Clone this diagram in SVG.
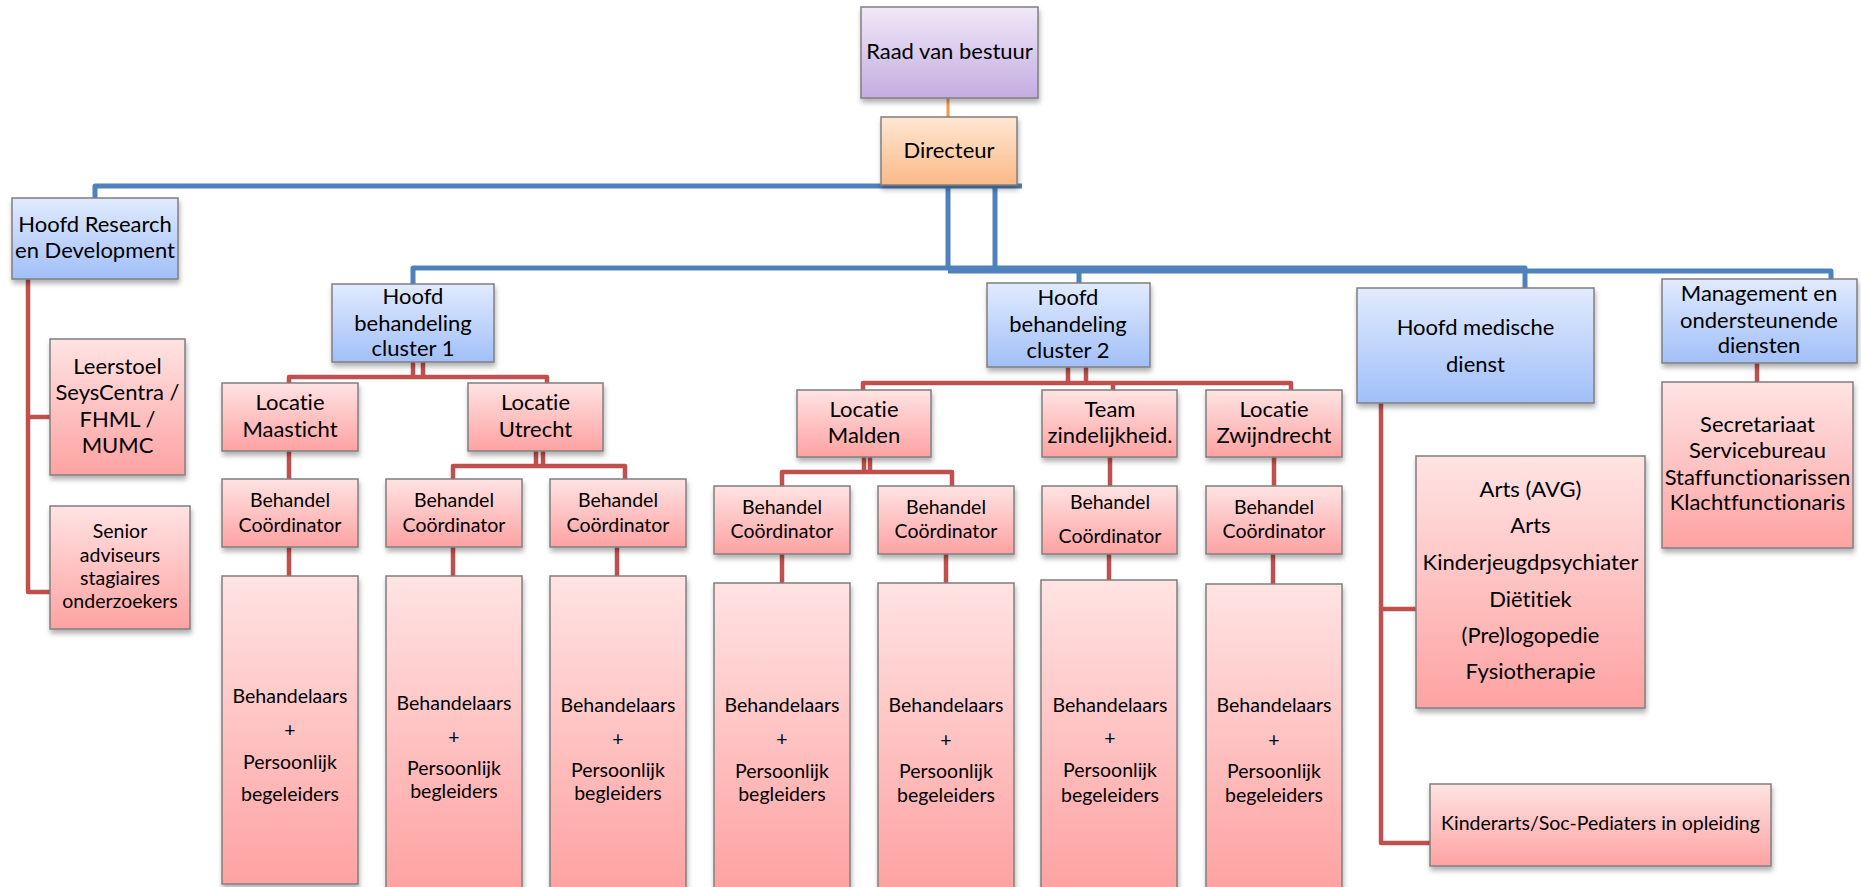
<svg xmlns="http://www.w3.org/2000/svg" width="1861" height="887" viewBox="0 0 1861 887">
<defs>
<linearGradient id="gPink" x1="0" y1="0" x2="0" y2="1"><stop offset="0" stop-color="#FFE3E3"/><stop offset="1" stop-color="#FEA2A2"/></linearGradient>
<linearGradient id="gBlue" x1="0" y1="0" x2="0" y2="1"><stop offset="0" stop-color="#E1EBFE"/><stop offset="1" stop-color="#A1BFF8"/></linearGradient>
<linearGradient id="gPurple" x1="0" y1="0" x2="0" y2="1"><stop offset="0" stop-color="#F0E9F8"/><stop offset="1" stop-color="#C4ACE0"/></linearGradient>
<linearGradient id="gOrange" x1="0" y1="0" x2="0" y2="1"><stop offset="0" stop-color="#FFE7D3"/><stop offset="1" stop-color="#FBB987"/></linearGradient>
<filter id="sh" x="-10%" y="-10%" width="125%" height="130%"><feDropShadow dx="1" dy="4" stdDeviation="2.5" flood-color="#000" flood-opacity="0.3"/></filter>
</defs>
<style>
rect.b{stroke:#7F7F7F;stroke-width:1.5;filter:url(#sh)}
.pink{fill:url(#gPink)}
.blue{fill:url(#gBlue)}
.purple{fill:url(#gPurple)}
.orange{fill:url(#gOrange)}
text{font-family:Lato,"Liberation Sans",sans-serif;fill:#000;text-anchor:middle;font-variant-ligatures:none;font-feature-settings:"liga" 0,"dlig" 0,"clig" 0}
.L{font-size:22px}
.S{font-size:19.5px}
.cb{fill:none;stroke:#4F81BD;stroke-width:5;stroke-linejoin:round}
.cr{fill:none;stroke:#C0504D;stroke-width:4.5;stroke-linejoin:round}
.co{fill:none;stroke:#F79646;stroke-width:3}
</style>
<g id="connectors">
<path class="co" d="M948,98 V117"/>
<path class="cb" d="M95,198 V186 H1022"/>
<path class="cb" d="M948,186 V270"/>
<path class="cb" d="M995,186 V268"/>
<path class="cb" d="M413,284 V268 H1525 V288"/>
<path class="cb" d="M948,271 H1831 V279"/>
<path class="cb" d="M1079,269 V283"/>
<path class="cr" d="M28,279 V592 H50"/>
<path class="cr" d="M28,417 H50"/>
<path class="cr" d="M413,362 V377 M423,362 V377 M289,383 V377 H547 V383"/>
<path class="cr" d="M289,451 V479 M289,547 V576"/>
<path class="cr" d="M536,451 V466 M543,451 V466 M453,479 V466 H625 V479"/>
<path class="cr" d="M453,547 V576 M617,547 V576"/>
<path class="cr" d="M1068,367 V383 M1086,367 V383 M863,390 V383 H1291 V390 M1113,383 V390"/>
<path class="cr" d="M864,457 V472 M870,457 V472 M782,486 V472 H952 V486"/>
<path class="cr" d="M782,554 V583 M946,554 V583"/>
<path class="cr" d="M1110,457 V486 M1109,554 V580"/>
<path class="cr" d="M1274,457 V486 M1273,554 V584"/>
<path class="cr" d="M1381,403 V843 H1430 M1381,609 H1416"/>
<path class="cr" d="M1757,363 V382"/>
</g>
<g id="raad"><rect class="b purple" x="861" y="7" width="177" height="91"/><text class="L" x="949.5" y="59">Raad van bestuur</text></g>
<g id="directeur"><rect class="b orange" x="881" y="117" width="136" height="68"/><text class="L" x="949" y="158">Directeur</text></g>
<g id="hoofd-rd"><rect class="b blue" x="12" y="198" width="166" height="81"/><text class="L" x="95" y="232">Hoofd Research</text><text class="L" x="95" y="258">en Development</text></g>
<g id="leerstoel"><rect class="b pink" x="50" y="339" width="135" height="136"/><text class="L" x="117.5" y="374">Leerstoel</text><text class="L" x="117.5" y="400">SeysCentra /</text><text class="L" x="117.5" y="427">FHML /</text><text class="L" x="117.5" y="453">MUMC</text></g>
<g id="senior"><rect class="b pink" x="50" y="506" width="140" height="123"/><text class="S" x="120" y="538">Senior</text><text class="S" x="120" y="562">adviseurs</text><text class="S" x="120" y="585">stagiaires</text><text class="S" x="120" y="608">onderzoekers</text></g>
<g id="cluster1"><rect class="b blue" x="332" y="284" width="162" height="78"/><text class="L" x="413" y="304">Hoofd</text><text class="L" x="413" y="331">behandeling</text><text class="L" x="413" y="356">cluster 1</text></g>
<g id="maastricht"><rect class="b pink" x="222" y="383" width="136" height="68"/><text class="L" x="290" y="410">Locatie</text><text class="L" x="290" y="437">Maasticht</text></g>
<g id="utrecht"><rect class="b pink" x="468" y="383" width="135" height="68"/><text class="L" x="535.5" y="410">Locatie</text><text class="L" x="535.5" y="437">Utrecht</text></g>
<g id="bc-m"><rect class="b pink" x="222" y="479" width="136" height="68"/><text class="S" x="290" y="507">Behandel</text><text class="S" x="290" y="532">Coördinator</text></g>
<g id="bc-u1"><rect class="b pink" x="386" y="479" width="136" height="68"/><text class="S" x="454" y="507">Behandel</text><text class="S" x="454" y="532">Coördinator</text></g>
<g id="bc-u2"><rect class="b pink" x="550" y="479" width="136" height="68"/><text class="S" x="618" y="507">Behandel</text><text class="S" x="618" y="532">Coördinator</text></g>
<g id="beh-m"><rect class="b pink" x="222" y="576" width="136" height="308"/><text class="S" x="290" y="703">Behandelaars</text><text class="S" x="290" y="737">+</text><text class="S" x="290" y="769">Persoonlijk</text><text class="S" x="290" y="801">begeleiders</text></g>
<g id="beh-u1"><rect class="b pink" x="386" y="576" width="136" height="312"/><text class="S" x="454" y="710">Behandelaars</text><text class="S" x="454" y="744">+</text><text class="S" x="454" y="775">Persoonlijk</text><text class="S" x="454" y="798">begleiders</text></g>
<g id="beh-u2"><rect class="b pink" x="550" y="576" width="136" height="312"/><text class="S" x="618" y="712">Behandelaars</text><text class="S" x="618" y="746">+</text><text class="S" x="618" y="777">Persoonlijk</text><text class="S" x="618" y="800">begleiders</text></g>
<g id="cluster2"><rect class="b blue" x="987" y="283" width="163" height="84"/><text class="L" x="1068" y="305">Hoofd</text><text class="L" x="1068" y="332">behandeling</text><text class="L" x="1068" y="358">cluster 2</text></g>
<g id="malden"><rect class="b pink" x="797" y="390" width="134" height="67"/><text class="L" x="864" y="417">Locatie</text><text class="L" x="864" y="443">Malden</text></g>
<g id="team"><rect class="b pink" x="1042" y="390" width="135" height="67"/><text class="L" x="1110" y="417">Team</text><text class="L" x="1110" y="443">zindelijkheid.</text></g>
<g id="zwijndrecht"><rect class="b pink" x="1206" y="390" width="136" height="67"/><text class="L" x="1274" y="417">Locatie</text><text class="L" x="1274" y="443">Zwijndrecht</text></g>
<g id="bc-ma1"><rect class="b pink" x="714" y="486" width="136" height="68"/><text class="S" x="782" y="514">Behandel</text><text class="S" x="782" y="538">Coördinator</text></g>
<g id="bc-ma2"><rect class="b pink" x="878" y="486" width="136" height="68"/><text class="S" x="946" y="514">Behandel</text><text class="S" x="946" y="538">Coördinator</text></g>
<g id="bc-team"><rect class="b pink" x="1042" y="486" width="135" height="68"/><text class="S" x="1110" y="509">Behandel</text><text class="S" x="1110" y="543">Coördinator</text></g>
<g id="bc-zw"><rect class="b pink" x="1206" y="486" width="136" height="68"/><text class="S" x="1274" y="514">Behandel</text><text class="S" x="1274" y="538">Coördinator</text></g>
<g id="beh-ma1"><rect class="b pink" x="714" y="583" width="136" height="305"/><text class="S" x="782" y="712">Behandelaars</text><text class="S" x="782" y="746">+</text><text class="S" x="782" y="778">Persoonlijk</text><text class="S" x="782" y="801">begleiders</text></g>
<g id="beh-ma2"><rect class="b pink" x="878" y="583" width="136" height="305"/><text class="S" x="946" y="712">Behandelaars</text><text class="S" x="946" y="747">+</text><text class="S" x="946" y="778">Persoonlijk</text><text class="S" x="946" y="802">begeleiders</text></g>
<g id="beh-team"><rect class="b pink" x="1041" y="580" width="136" height="308"/><text class="S" x="1110" y="712">Behandelaars</text><text class="S" x="1110" y="745">+</text><text class="S" x="1110" y="777">Persoonlijk</text><text class="S" x="1110" y="802">begeleiders</text></g>
<g id="beh-zw"><rect class="b pink" x="1206" y="584" width="136" height="304"/><text class="S" x="1274" y="712">Behandelaars</text><text class="S" x="1274" y="747">+</text><text class="S" x="1274" y="778">Persoonlijk</text><text class="S" x="1274" y="802">begeleiders</text></g>
<g id="medisch"><rect class="b blue" x="1357" y="288" width="237" height="115"/><text class="L" x="1475.5" y="335">Hoofd medische</text><text class="L" x="1475.5" y="372">dienst</text></g>
<g id="management"><rect class="b blue" x="1662" y="279" width="195" height="84"/><text class="L" x="1759" y="301">Management en</text><text class="L" x="1759" y="328">ondersteunende</text><text class="L" x="1759" y="353">diensten</text></g>
<g id="secretariaat"><rect class="b pink" x="1662" y="382" width="191" height="166"/><text class="L" x="1757.5" y="432">Secretariaat</text><text class="L" x="1757.5" y="458">Servicebureau</text><text class="L" x="1757.5" y="485">Staffunctionarissen</text><text class="L" x="1757.5" y="510">Klachtfunctionaris</text></g>
<g id="arts"><rect class="b pink" x="1416" y="456" width="229" height="252"/><text class="L" x="1530.5" y="497">Arts (AVG)</text><text class="L" x="1530.5" y="533">Arts</text><text class="L" x="1530.5" y="570">Kinderjeugdpsychiater</text><text class="L" x="1530.5" y="607">Diëtitiek</text><text class="L" x="1530.5" y="643">(Pre)logopedie</text><text class="L" x="1530.5" y="679">Fysiotherapie</text></g>
<g id="kinderarts"><rect class="b pink" x="1430" y="784" width="341" height="82"/><text class="S" x="1600.5" y="830">Kinderarts/Soc-Pediaters in opleiding</text></g>
</svg>
